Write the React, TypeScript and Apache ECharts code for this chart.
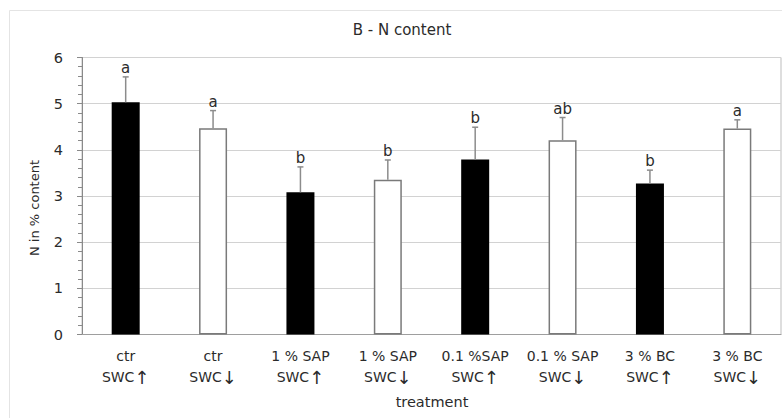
import React, { useEffect, useRef } from "react";
import * as echarts from "echarts";

const categories = [
  "ctr\nSWC↑",
  "ctr\nSWC↓",
  "1 % SAP\nSWC↑",
  "1 % SAP\nSWC↓",
  "0.1 %SAP\nSWC↑",
  "0.1 % SAP\nSWC↓",
  "3 % BC\nSWC↑",
  "3 % BC\nSWC↓",
];
const means = [5.03, 4.47, 3.08, 3.35, 3.79, 4.21, 3.27, 4.46];
const errors = [0.55, 0.38, 0.55, 0.43, 0.7, 0.49, 0.29, 0.19];
const letters = ["a", "a", "b", "b", "b", "ab", "b", "a"];
const yTicks = [0, 1, 2, 3, 4, 5, 6];

const FONT = "'DejaVu Sans', 'Open Sans', sans-serif";
const ARROW_FONT = "'DejaVu Sans', sans-serif";
const TEXT = "#2b2b2b";

export default function App() {
  const ref = useRef<HTMLDivElement>(null);
  useEffect(() => {
    if (!ref.current) return;
    const chart = echarts.init(ref.current, undefined, { renderer: "svg" });
    const option: any = {
      animation: false,
      backgroundColor: "#ffffff",
      textStyle: { fontFamily: FONT },
      grid: {
        left: 82,
        right: 1,
        top: 57.5,
        bottom: 83.5,
        show: true,
        borderColor: "#bdbdbd",
        borderWidth: 1,
      },
      graphic: [
        {
          type: "rect",
          shape: { x: 9.5, y: 10.5, width: 790, height: 420 },
          style: { fill: "none", stroke: "#e4e4e4", lineWidth: 1 },
          silent: true,
          z: -10,
        },
        {
          type: "text",
          x: 402,
          y: 30,
          style: {
            text: "B - N content",
            font: `15px ${FONT}`,
            fill: TEXT,
            textAlign: "center",
            textVerticalAlign: "middle",
          },
        },
        {
          type: "text",
          x: 34,
          y: 208,
          rotation: Math.PI / 2,
          style: {
            text: "N in % content",
            font: `13px ${FONT}`,
            fill: TEXT,
            textAlign: "center",
            textVerticalAlign: "middle",
          },
        },
        {
          type: "text",
          x: 432,
          y: 402,
          style: {
            text: "treatment",
            font: `14.5px ${FONT}`,
            fill: TEXT,
            textAlign: "center",
            textVerticalAlign: "middle",
          },
        },
      ],
      xAxis: {
        type: "category",
        data: categories,
        axisLine: { show: true, lineStyle: { color: "#9e9e9e", width: 1 } },
        axisTick: { show: false },
        axisLabel: {
          color: TEXT,
          fontSize: 14,
          fontFamily: FONT,
          lineHeight: 21,
          margin: 11,
          interval: 0,
          formatter: (v: string) =>
            v.replace("↑", "{arr|↑}").replace("↓", "{arr|↓}"),
          rich: {
            arr: {
              fontFamily: ARROW_FONT,
              fontSize: 18,
              lineHeight: 21,
              color: TEXT,
            },
          },
        },
        splitLine: { show: false },
      },
      yAxis: {
        type: "value",
        min: yTicks[0],
        max: yTicks[yTicks.length - 1],
        interval: 1,
        axisLine: { show: true, lineStyle: { color: "#8a8a8a", width: 1 } },
        axisTick: { show: true, length: 5, lineStyle: { color: "#8a8a8a" } },
        minorTick: { show: true, splitNumber: 5, length: 4, lineStyle: { color: "#8a8a8a" } },
        axisLabel: { color: TEXT, fontSize: 14.5, fontFamily: FONT, margin: 19 },
        splitLine: { show: true, lineStyle: { color: "#d2d2d2", width: 1 } },
      },
      series: [
        {
          type: "bar",
          barWidth: 28,
          data: means.map((v, i) => ({
            value: v,
            itemStyle:
              i % 2 === 0
                ? { color: "#000000", borderColor: "#000000", borderWidth: 0 }
                : { color: "#ffffff", borderColor: "#7a7a7a", borderWidth: 1.5 },
          })),
          z: 2,
        },
        {
          type: "custom",
          z: 5,
          data: means.map((v, i) => [i, v, errors[i]]),
          renderItem: (params: any, api: any) => {
            const x = api.value(0);
            const m = api.value(1);
            const e = api.value(2);
            const base = api.coord([x, m]);
            const top = api.coord([x, m + e]);
            const stroke = { stroke: "#8c8c8c", lineWidth: 1.5 };
            return {
              type: "group",
              children: [
                {
                  type: "line",
                  shape: { x1: base[0], y1: base[1], x2: top[0], y2: top[1] },
                  style: stroke,
                },
                {
                  type: "line",
                  shape: { x1: top[0] - 3, y1: top[1], x2: top[0] + 3, y2: top[1] },
                  style: stroke,
                },
                {
                  type: "text",
                  x: top[0],
                  y: top[1] - 9,
                  style: {
                    text: letters[params.dataIndex],
                    font: `15px ${FONT}`,
                    fill: TEXT,
                    textAlign: "center",
                    textVerticalAlign: "middle",
                  },
                },
              ],
            };
          },
        },
      ],
    };
    chart.setOption(option);
    return () => chart.dispose();
  }, []);
  return (
    <div
      ref={ref}
      style={{ position: "fixed", left: 0, top: 0, width: 782, height: 418 }}
    />
  );
}
